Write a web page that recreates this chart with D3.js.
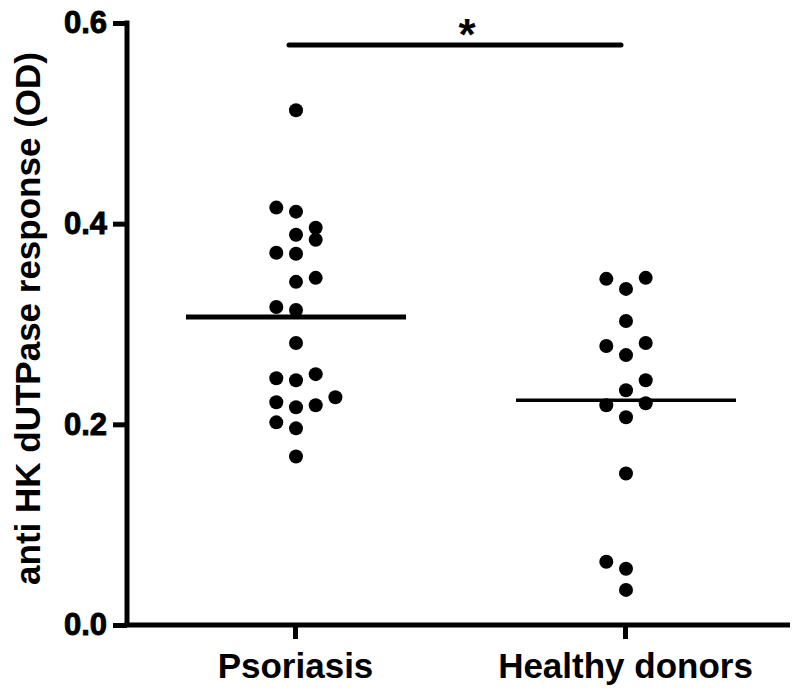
<!DOCTYPE html>
<html>
<head>
<meta charset="utf-8">
<script src="https://cdn.jsdelivr.net/npm/d3@7"></script>
<style>
  html, body { margin: 0; padding: 0; background: #fff; }
  svg { display: block; }
</style>
</head>
<body>
<svg id="chart" width="800" height="691"></svg>
<script>
// ---- data ----
const categories = ["Psoriasis", "Healthy donors"];
const psoriasisValues = [0.513, 0.416, 0.412, 0.396, 0.389, 0.384, 0.371, 0.370, 0.346, 0.342,
  0.317, 0.314, 0.281, 0.246, 0.244, 0.250, 0.227, 0.222, 0.217, 0.219, 0.202, 0.196, 0.168];
// dot column within the scatter (0 = centre, -1 = left, 1/2 = right)
const psoriasisSlots = [0, -1, 0, 1, 0, 1, -1, 0, 1, 0,
  -1, 0, 0, -1, 0, 1, 2, -1, 0, 1, -1, 0, 0];
const healthyValues = [0.345, 0.346, 0.335, 0.303, 0.278, 0.281, 0.269, 0.244, 0.234,
  0.219, 0.221, 0.207, 0.151, 0.063, 0.056, 0.035];
const healthySlots = [-1, 1, 0, 0, -1, 1, 0, 1, 0, -1, 1, 0, 0, -1, 0, 0];
const means = [0.307, 0.224];
const yTicks = [0.0, 0.2, 0.4, 0.6];
const yTitle = "anti HK dUTPase response (OD)";
const sigLabel = "*";

// ---- layout ----
const svg = d3.select("#chart");
const axisX = 127, axisY = 625, topY = 23, rightX = 790;
const font = "'Liberation Sans', Arial, sans-serif";

const y = d3.scaleLinear().domain([0, 0.6]).range([axisY, topY]);
const x = d3.scalePoint().domain(categories).range([295, 625]);
const slotW = 19.7;

// y axis
const yAxis = d3.axisLeft(y).tickValues(yTicks).tickFormat(d3.format(".1f"))
  .tickSize(14).tickPadding(6).tickSizeOuter(0);
const gy = svg.append("g").attr("transform", `translate(${axisX},0)`).call(yAxis);
gy.select(".domain").attr("stroke", "#000").attr("stroke-width", 5)
  .attr("d", `M0,${topY - 2.5}V${axisY}`);
gy.selectAll(".tick line").attr("stroke", "#000").attr("stroke-width", 5);
gy.selectAll(".tick text").attr("font-family", font).attr("font-weight", "bold")
  .attr("font-size", 31).attr("fill", "#000")
  .attr("stroke", "#000").attr("stroke-width", 0.9);

// x axis
const xAxis = d3.axisBottom(x).tickSize(14).tickPadding(14).tickSizeOuter(0);
const gx = svg.append("g").attr("transform", `translate(0,${axisY})`).call(xAxis);
gx.select(".domain").attr("stroke", "#000").attr("stroke-width", 5)
  .attr("d", `M${axisX - 2.5},0H${rightX}`);
gx.selectAll(".tick line").attr("stroke", "#000").attr("stroke-width", 5);
gx.selectAll(".tick text").attr("font-family", font).attr("font-weight", "bold")
  .attr("font-size", 35).attr("fill", "#000");

// y title
svg.append("text")
  .attr("transform", `translate(40,${(49 + 588) / 2}) rotate(-90)`)
  .attr("text-anchor", "middle")
  .attr("font-family", font).attr("font-weight", "bold").attr("font-size", 35)
  .attr("fill", "#000")
  .text(yTitle);

// points
const groups = [
  { cat: categories[0], vals: psoriasisValues, slots: psoriasisSlots },
  { cat: categories[1], vals: healthyValues, slots: healthySlots }
];
groups.forEach(g => {
  svg.append("g").selectAll("circle")
    .data(g.vals.map((v, i) => ({ v, s: g.slots[i] })))
    .join("circle")
    .attr("cx", d => x(g.cat) + 1 + d.s * slotW)
    .attr("cy", d => y(d.v))
    .attr("r", 7)
    .attr("fill", "#000");
});

// mean lines
const meanW = [5, 3.5];
categories.forEach((c, i) => {
  svg.append("line")
    .attr("x1", x(c) + 1 - 110).attr("x2", x(c) + 1 + 110)
    .attr("y1", y(means[i])).attr("y2", y(means[i]))
    .attr("stroke", "#000").attr("stroke-width", meanW[i]);
});

// significance bar
svg.append("line")
  .attr("x1", x(categories[0]) - 6).attr("x2", x(categories[1]) - 4)
  .attr("y1", 45).attr("y2", 45)
  .attr("stroke", "#000").attr("stroke-width", 5).attr("stroke-linecap", "round");
svg.append("text")
  .attr("x", (x(categories[0]) + x(categories[1])) / 2 + 7)
  .attr("y", 50)
  .attr("text-anchor", "middle")
  .attr("font-family", font).attr("font-weight", "bold").attr("font-size", 44)
  .attr("fill", "#000")
  .text(sigLabel);
</script>
</body>
</html>
